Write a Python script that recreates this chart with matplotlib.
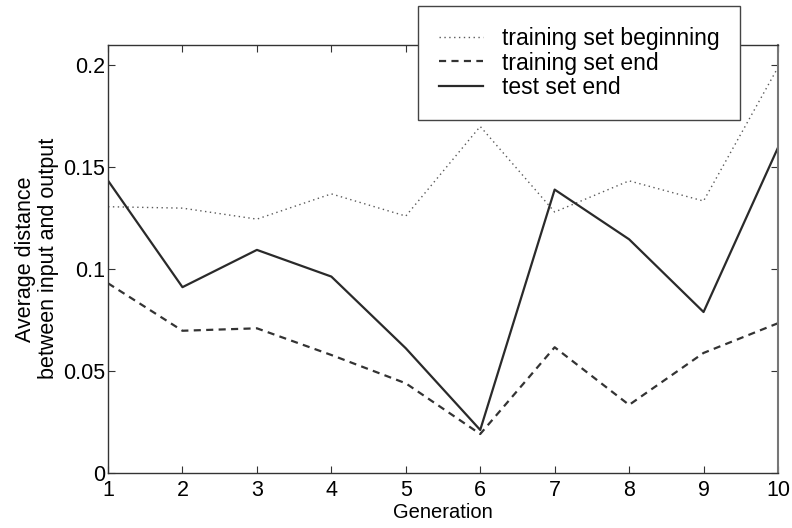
import numpy as np
import matplotlib
matplotlib.use("Agg")
import matplotlib.pyplot as plt

plt.rcParams['font.family'] = ['Liberation Sans', 'DejaVu Sans']

generation = np.arange(1, 11)
train_begin = [0.1306, 0.1299, 0.1245, 0.1369, 0.1260, 0.1700, 0.1280, 0.1433, 0.1334, 0.1990]
train_end = [0.0930, 0.0697, 0.0709, 0.0578, 0.0439, 0.0190, 0.0616, 0.0333, 0.0588, 0.0734]
test_end = [0.1434, 0.0911, 0.1094, 0.0963, 0.0611, 0.0210, 0.1390, 0.1146, 0.0789, 0.1596]

fig = plt.figure(figsize=(7.92, 5.28), dpi=100)
ax = fig.add_axes([0.1364, 0.1047, 0.8459, 0.8101])

ax.plot(generation, train_begin, color='#5a5a5a', lw=1.0, linestyle=(0, (1, 2.5)),
        label='training set beginning')
ax.plot(generation, train_end, color='#333333', lw=1.6, linestyle=(0, (3.2, 2.4)),
        label='training set end')
ax.plot(generation, test_end, color='#2a2a2a', lw=1.6, linestyle='-',
        label='test set end')

ax.set_xlim(1, 10)
ax.set_ylim(0, 0.21)
ax.set_xticks(generation)
ax.set_yticks([0, 0.05, 0.1, 0.15, 0.2])
ax.set_yticklabels(['0', '0.05', '0.1', '0.15', '0.2'])
ax.tick_params(direction='in', length=5, width=0.8, color='#333333',
               labelsize=15.5, top=True, right=True, pad=2)
ax.tick_params(axis='x', pad=5)
for s in ax.spines.values():
    s.set_color('#333333')
    s.set_linewidth(1.0)
ax.spines['right'].set_color('#777777')
ax.spines['right'].set_linewidth(1.5)

ax.set_xlabel('Generation', fontsize=14.5, labelpad=2)
ax.set_ylabel('Average distance\nbetween input and output', fontsize=15.5,
              labelpad=3, linespacing=1.15)

leg = ax.legend(loc='upper right', bbox_to_anchor=(0.943, 1.091), fontsize=16.5,
                handlelength=1.95, handletextpad=0.8, labelspacing=0.08,
                borderpad=0.9, borderaxespad=0, fancybox=False, framealpha=1,
                edgecolor='#444444')
leg.get_frame().set_linewidth(1.0)
leg.set_zorder(10)

fig.savefig('out.png', dpi=100)
